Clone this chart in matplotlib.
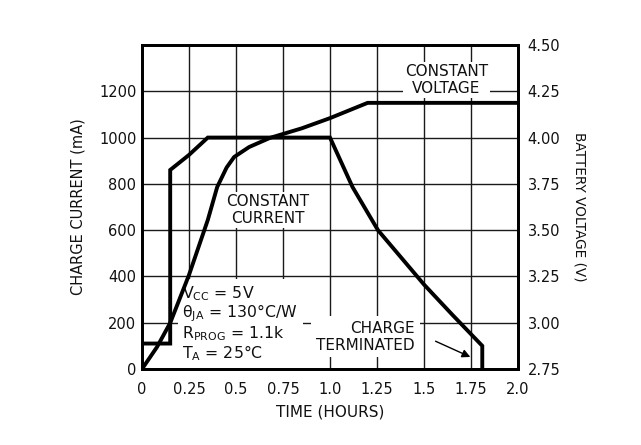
import matplotlib
matplotlib.use("Agg")
import matplotlib.pyplot as plt

# ---- data ----
time_current = [0, 0.15, 0.15, 0.25, 0.35, 1.0, 1.12, 1.255, 1.5, 1.65, 1.81, 1.81]
current_ma = [110, 110, 860, 925, 1000, 1000, 786, 600, 365, 235, 100, 0]

time_voltage = [0, 0.08, 0.15, 0.25, 0.35, 0.40, 0.45, 0.49, 0.57, 0.68, 0.85, 1.0, 1.2, 2.0]
voltage_v = [2.75, 2.869, 2.999, 3.258, 3.555, 3.733, 3.838, 3.895, 3.949, 3.998,
             4.05, 4.105, 4.1875, 4.1875]

x_ticks = [0, 0.25, 0.5, 0.75, 1.0, 1.25, 1.5, 1.75, 2.0]
x_tick_labels = ["0", "0.25", "0.5", "0.75", "1.0", "1.25", "1.5", "1.75", "2.0"]
left_ticks = [0, 200, 400, 600, 800, 1000, 1200]
right_ticks = [2.75, 3.00, 3.25, 3.50, 3.75, 4.00, 4.25, 4.50]

plt.rcParams['font.family'] = ['DejaVu Sans']

fig = plt.figure(figsize=(6.41, 4.45), dpi=100)
ax = fig.add_axes([142 / 641, 1 - 369 / 445, (518 - 142) / 641, (369 - 45) / 445])
ax2 = ax.twinx()

ax.set_xlim(0, 2.0)
ax.set_ylim(0, 1400)
ax2.set_ylim(2.75, 4.50)

ax.set_xticks(x_ticks)
ax.set_xticklabels(x_tick_labels)
ax.set_yticks(left_ticks)
ax2.set_yticks(right_ticks)
ax2.set_yticklabels([f"{v:.2f}" for v in right_ticks])

ax.set_axisbelow(True)
ax.grid(True, color="#1a1a1a", linewidth=1.0, zorder=0.5)

for a in (ax, ax2):
    for s in a.spines.values():
        s.set_linewidth(2.0)
        s.set_color("black")
ax.tick_params(axis="both", length=0, labelsize=10.5, colors="#111111")
ax.tick_params(axis="x", pad=9)
ax.tick_params(axis="y", pad=4)
ax2.tick_params(axis="y", length=0, labelsize=10.5, pad=7, colors="#111111")

ax.set_xlabel("TIME (HOURS)", fontsize=11, labelpad=6, color="#111111")
ax.set_ylabel("CHARGE CURRENT (mA)", fontsize=10.5, labelpad=10, color="#111111")
ax2.set_ylabel("BATTERY VOLTAGE (V)", fontsize=9.8, rotation=270, labelpad=19,
               color="#111111")

ax.plot(time_current, current_ma, color="black", linewidth=2.8, zorder=2,
        solid_joinstyle="miter")
ax2.plot(time_voltage, voltage_v, color="black", linewidth=2.8, zorder=2)

box = dict(facecolor="white", edgecolor="none", pad=1.5)
box_wide = dict(facecolor="white", edgecolor="none", pad=3.5)
ax.text(0.67, 688, "CONSTANT\nCURRENT", ha="center", va="center", fontsize=11,
        linespacing=1.15, bbox=box, zorder=1, color="#111111")
ax.text(1.62, 1250, "CONSTANT\nVOLTAGE", ha="center", va="center", fontsize=11,
        linespacing=1.15, bbox=box, zorder=1, color="#111111")
ax.text(0.215, 196,
        r"$\mathregular{V_{CC}}$ = 5V" "\n"
        r"$\mathregular{\theta_{JA}}$ = 130°C/W" "\n"
        r"$\mathregular{R_{PROG}}$ = 1.1k" "\n"
        r"$\mathregular{T_{A}}$ = 25°C",
        ha="left", va="center", fontsize=11.3, linespacing=1.02, bbox=box_wide,
        zorder=1, color="#111111")
ax.text(1.452, 140, "CHARGE\nTERMINATED", ha="right", va="center",
        multialignment="right", fontsize=11, linespacing=1.15, bbox=box_wide,
        zorder=1, color="#111111")
ax.annotate("", xy=(1.76, 47), xytext=(1.548, 125),
            arrowprops=dict(arrowstyle="-|>", color="black", lw=1.0,
                            mutation_scale=12), zorder=3)

fig.savefig("out.png", dpi=100)
